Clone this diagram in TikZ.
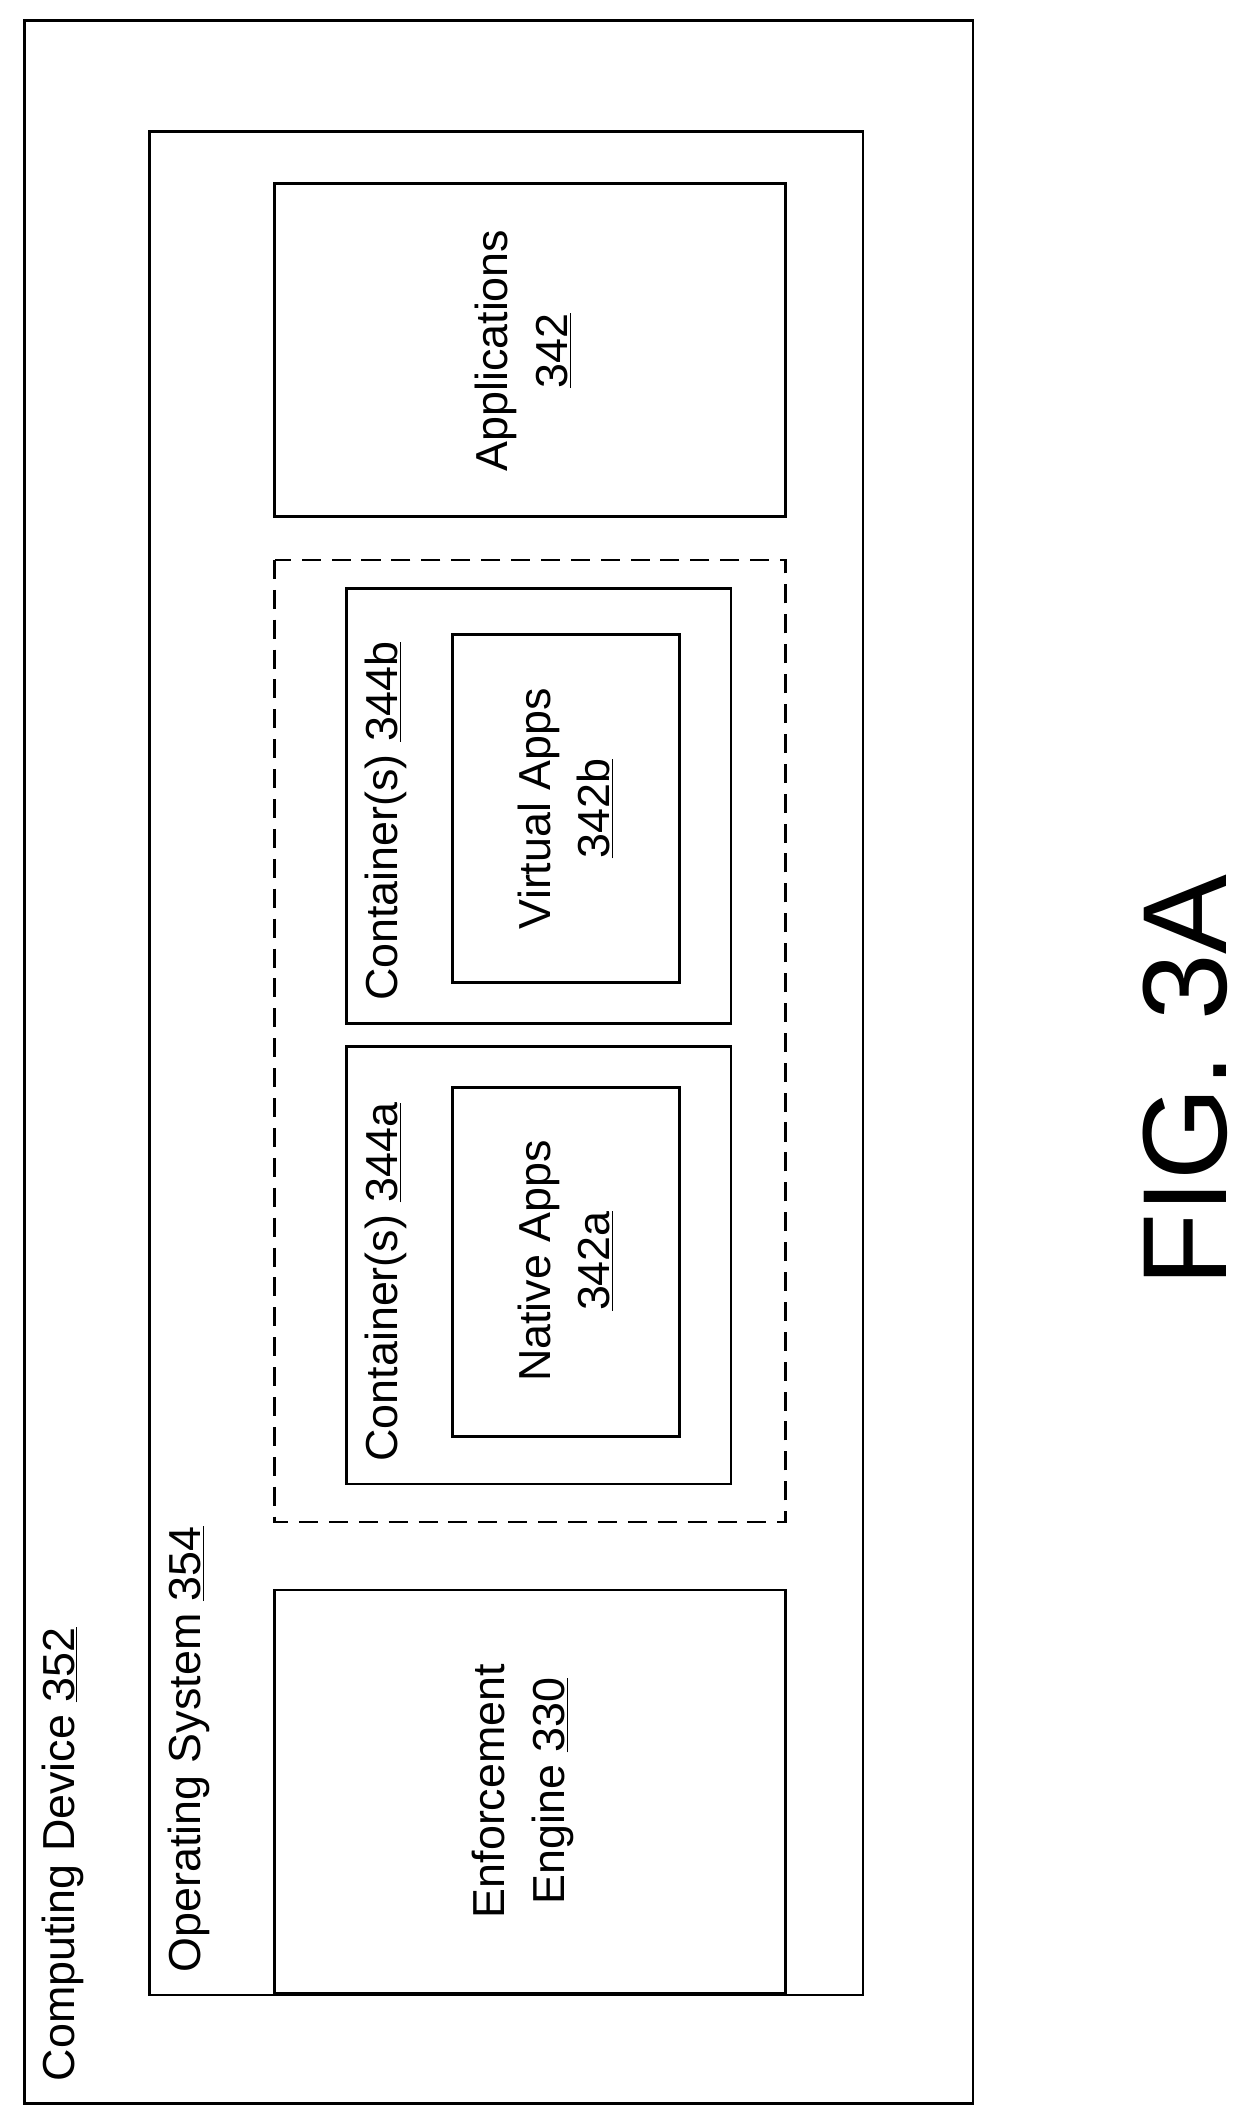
\documentclass[tikz,border=0pt]{standalone}
\usepackage{fontspec}
\setmainfont{Liberation Sans}
\usetikzlibrary{positioning}

\tikzset{
  box/.style = {draw, line width = 2pt},
  lbl/.style = {rotate = 90, align = center, font = \fontsize{33}{44}\selectfont},
}

\begin{document}
\begin{tikzpicture}[x = 1pt, y = -1pt]
        \useasboundingbox (0, 0) rectangle (920, 1563);

        % Boxes
        \draw [box] (18, 15) rectangle (716, 1548);
        \draw [box] (110, 97) rectangle (635, 1468);
        \draw [box] (202, 135) rectangle (578, 380);
        \draw [box, dashed, dash pattern = on 14pt off 8pt] (202, 412) rectangle (578, 1120);
        \draw [box] (255, 433) rectangle (538, 753);
        \draw [box] (333, 467) rectangle (500, 723);
        \draw [box] (255, 770) rectangle (538, 1092);
        \draw [box] (333, 800) rectangle (500, 1057);
        \draw [box] (202, 1170) rectangle (578, 1467);

        % Labels
        \node [lbl, anchor = south west] (device) at (65, 1535) {Computing Device \underline{352}};
        \node [lbl, anchor = south west] (os) at (158, 1455) {Operating System \underline{354}};
        \node [lbl] (apps) at (385, 258) {Applications\\\underline{342}};
        \node [lbl, anchor = south west] (conb) at (303, 740) {Container(s) \underline{344b}};
        \node [lbl] (virtual) at (416, 595) {Virtual Apps\\\underline{342b}};
        \node [lbl, anchor = south west] (cona) at (303, 1079) {Container(s) \underline{344a}};
        \node [lbl] (native) at (416, 928) {Native Apps\\\underline{342a}};
        \node [lbl] (engine) at (385, 1318) {Enforcement\\Engine \underline{330}};
        \node [rotate = 90, font = \fontsize{88}{100}\selectfont] (fig) at (872, 795) {FIG. 3A};

    \end{tikzpicture}
\end{document}
